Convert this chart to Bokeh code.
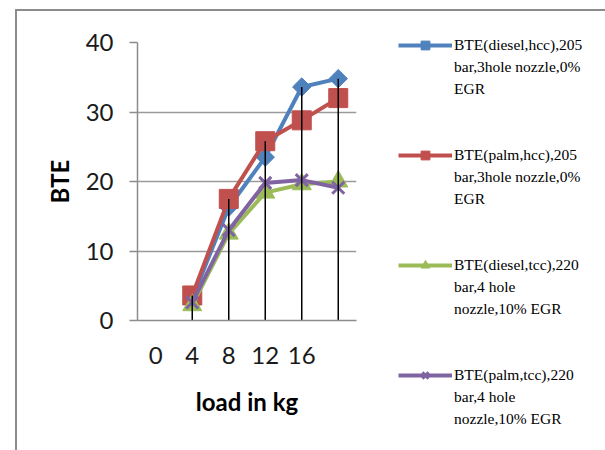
from bokeh.plotting import figure
from bokeh.models import FixedTicker, Legend, LegendItem, Range1d
from bokeh.embed import file_html
from bokeh.resources import INLINE

# ---- data ----
loads = [4, 8, 12, 16, 20]
tick_values = [0, 4, 8, 12, 16]
tick_labels = ["0", "4", "8", "12", "16"]
y_ticks = [0, 10, 20, 30, 40]

bte_diesel_hcc = [3.2, 16.3, 23.5, 33.6, 34.8]
bte_palm_hcc = [3.6, 17.5, 25.8, 28.8, 32.0]
bte_diesel_tcc = [2.2, 12.5, 18.4, 19.6, 20.0]
bte_palm_tcc = [2.6, 13.0, 19.8, 20.2, 19.1]

series_names = [
    ["BTE(diesel,hcc),205", "bar,3hole nozzle,0%", "EGR"],
    ["BTE(palm,hcc),205", "bar,3hole nozzle,0%", "EGR"],
    ["BTE(diesel,tcc),220", "bar,4 hole", "nozzle,10% EGR"],
    ["BTE(palm,tcc),220", "bar,4 hole", "nozzle,10% EGR"],
]
series_values = [bte_diesel_hcc, bte_palm_hcc, bte_diesel_tcc, bte_palm_tcc]
colors = ["#4F81BD", "#C0504D", "#9BBB59", "#8064A2"]
markers = ["square", "square", "triangle", "x"]
marker_angles = [0.785398, 0, 0, 0]
marker_sizes = [13, 19, 19, 17]

p = figure(frame_width=219, frame_height=278, output_backend="svg", toolbar_location=None,
           x_range=Range1d(-2, 22), y_range=Range1d(0, 40),
           min_border_left=120, min_border_right=247,
           min_border_top=31, min_border_bottom=130)
p.margin = (9, 0, 0, 15)
p.styles = {"border-left": "2px solid #8c8c8c", "border-top": "2px solid #8c8c8c",
            "border-right": "2px solid #8c8c8c"}
p.outline_line_color = None
p.background_fill_color = "white"
p.border_fill_color = "white"

# invisible renderer used for the continuation lines of legend entries
blank = p.line(x=[], y=[], line_alpha=0)

items = []
for vals, name, c, m, a, s in zip(series_values, series_names, colors, markers, marker_angles, marker_sizes):
    lr = p.line(loads, vals, line_color=c, line_width=4)
    if m == "x":
        sr = p.scatter(loads, vals, marker=m, size=s, line_color=c, line_width=3)
    else:
        sr = p.scatter(loads, vals, marker=m, size=s, angle=a, fill_color=c, line_color=c)
    items.append(LegendItem(label=name[0], renderers=[lr, sr]))
    for txt in name[1:]:
        items.append(LegendItem(label=txt, renderers=[blank]))
    items.append(LegendItem(label=" ", renderers=[blank]))
    items.append(LegendItem(label="  ", renderers=[blank]))

# drop lines to the axis from the highest point of each category
tops = [max(v) for v in zip(*series_values)]
p.segment(x0=loads, y0=[0] * len(loads), x1=loads, y1=tops, line_color="black", line_width=1.5)

# axes
p.xaxis.ticker = FixedTicker(ticks=tick_values)
p.xaxis.major_label_overrides = {v: l for v, l in zip(tick_values, tick_labels)}
p.yaxis.ticker = FixedTicker(ticks=y_ticks)
for ax in (p.xaxis, p.yaxis):
    ax.axis_line_color = "#8c8c8c"
    ax.axis_line_width = 1.5
    ax.minor_tick_line_color = None
    ax.major_label_text_font = "Lato"
    ax.major_label_text_font_size = "24px"
    ax.major_label_text_color = "#1a1a1a"
    ax.axis_label_text_font = "Lato"
    ax.axis_label_text_font_size = "24px"
    ax.axis_label_text_font_style = "bold"
    ax.axis_label_text_color = "#000000"
p.xaxis.major_tick_line_color = None
p.xaxis.major_tick_out = 0
p.xaxis.major_label_standoff = 26
p.xaxis.axis_label = "load in kg"
p.xaxis.axis_label_standoff = 20
p.yaxis.major_tick_line_color = "#8c8c8c"
p.yaxis.major_tick_line_width = 1.5
p.yaxis.major_tick_out = 8
p.yaxis.major_tick_in = 0
p.yaxis.major_label_standoff = 16
p.yaxis.axis_label = "BTE"
p.yaxis.axis_label_standoff = 9

p.xgrid.grid_line_color = None
p.ygrid.grid_line_color = "#9a9a9a"
p.ygrid.grid_line_width = 1.5

legend = Legend(items=items, location=(42, -154), margin=0, padding=0,
                glyph_width=54, glyph_height=22, label_height=22, label_standoff=2,
                spacing=0, label_text_font="Liberation Serif",
                label_text_font_size="15.5px", label_text_color="#000000",
                border_line_color=None, background_fill_alpha=0)
p.add_layout(legend, "right")

open("out.html", "w").write(file_html(p, INLINE))
